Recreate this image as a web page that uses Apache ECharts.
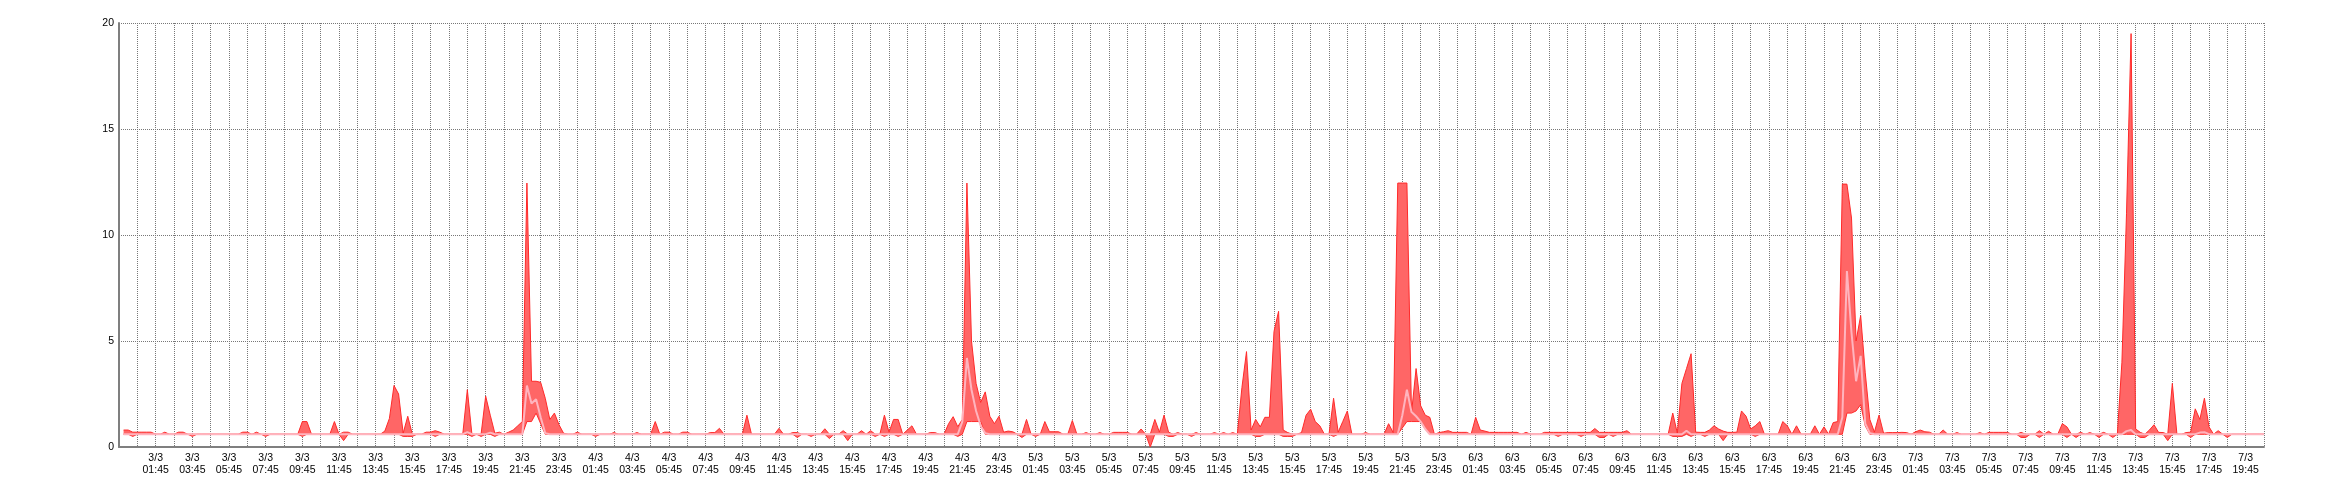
<!DOCTYPE html>
<html><head><meta charset="utf-8">
<script src="https://cdn.jsdelivr.net/npm/echarts@6/dist/echarts.min.js"></script>
<style>html,body{margin:0;padding:0;background:#fff}#c{width:2340px;height:500px}</style>
</head><body><div id="c"></div>
<script>
// 15-minute samples from 3/3 00:00 to 7/3 20:45 (24 samples = 6 hours per row)
const maxVals = [
0.8,0.8,0.7,0.7,0.7,0.7,0.7,0.6,0.6,0.7,0.6,0.6,0.7,0.7,0.6,0.6,0.6,0.6,0.6,0.6,0.6,0.6,0.6,0.6,
0.6,0.6,0.7,0.7,0.6,0.7,0.6,0.6,0.6,0.6,0.6,0.6,0.6,0.6,0.6,1.2,1.2,0.6,0.6,0.6,0.6,0.6,1.2,0.6,
0.7,0.7,0.6,0.6,0.6,0.6,0.6,0.6,0.6,0.75,1.35,2.9,2.5,0.65,1.45,0.6,0.6,0.6,0.7,0.7,0.77,0.7,0.6,0.6,
0.6,0.6,0.6,2.7,0.6,0.6,0.6,2.4,1.5,0.65,0.7,0.6,0.7,0.8,1.0,1.2,12.45,3.1,3.1,3.05,2.3,1.3,1.6,1.05,
0.65,0.6,0.6,0.7,0.6,0.6,0.6,0.6,0.6,0.6,0.6,0.68,0.6,0.6,0.6,0.6,0.68,0.6,0.6,0.6,1.2,0.6,0.7,0.7,
0.6,0.6,0.7,0.7,0.6,0.6,0.6,0.6,0.68,0.68,0.88,0.6,0.6,0.6,0.6,0.6,1.5,0.6,0.6,0.6,0.6,0.6,0.6,0.88,
0.6,0.6,0.68,0.68,0.6,0.6,0.6,0.6,0.6,0.86,0.6,0.6,0.6,0.77,0.6,0.6,0.6,0.77,0.6,0.77,0.6,0.6,1.5,0.7,
1.3,1.3,0.6,0.8,1.0,0.6,0.6,0.6,0.68,0.68,0.6,0.6,1.1,1.43,0.96,1.3,12.45,5.0,3.0,2.1,2.6,1.45,1.1,1.45,
0.7,0.75,0.72,0.6,0.6,1.3,0.6,0.6,0.6,1.2,0.72,0.72,0.72,0.6,0.6,1.25,0.6,0.6,0.68,0.6,0.6,0.68,0.6,0.6,
0.69,0.69,0.69,0.69,0.6,0.6,0.85,0.6,0.6,1.3,0.7,1.5,0.7,0.6,0.68,0.6,0.6,0.6,0.68,0.6,0.6,0.6,0.68,0.6,
0.68,0.6,0.68,0.6,2.8,4.5,0.8,1.3,0.95,1.4,1.4,5.45,6.4,0.8,0.68,0.6,0.6,0.68,1.5,1.78,1.2,1.0,0.6,0.6,
2.3,0.7,1.2,1.7,0.6,0.6,0.6,0.68,0.6,0.6,0.6,0.6,1.1,0.68,12.45,12.45,12.45,1.6,3.7,1.95,1.5,1.4,0.6,0.68,
0.72,0.77,0.69,0.69,0.69,0.69,0.6,1.4,0.8,0.75,0.69,0.69,0.69,0.69,0.69,0.69,0.69,0.6,0.69,0.6,0.6,0.6,0.69,0.69,
0.69,0.69,0.69,0.69,0.69,0.69,0.69,0.69,0.69,0.87,0.69,0.69,0.69,0.69,0.69,0.69,0.77,0.6,0.6,0.6,0.6,0.6,0.6,0.6,
0.6,0.6,1.6,0.65,3.0,3.7,4.4,0.7,0.69,0.69,0.8,1.0,0.85,0.75,0.69,0.69,0.7,1.7,1.45,0.85,1.0,1.2,0.6,0.6,
0.6,0.6,1.2,1.0,0.6,1.0,0.6,0.6,0.6,1.0,0.6,0.95,0.6,1.15,1.2,12.4,12.4,10.8,5.0,6.2,3.5,1.3,0.7,1.5,
0.65,0.68,0.68,0.68,0.69,0.68,0.6,0.72,0.8,0.72,0.7,0.6,0.6,0.8,0.6,0.6,0.68,0.6,0.6,0.6,0.6,0.68,0.6,0.69,
0.69,0.69,0.69,0.69,0.6,0.6,0.69,0.6,0.6,0.6,0.77,0.6,0.74,0.6,0.6,1.1,0.95,0.6,0.6,0.69,0.6,0.68,0.6,0.6,
0.69,0.6,0.6,0.6,4.0,11.0,19.5,0.85,0.69,0.6,0.8,1.05,0.69,0.68,0.6,3.0,0.6,0.6,0.68,0.7,1.8,1.3,2.3,0.95,
0.6,0.77,0.6,0.6,0.6,0.6,0.6,0.6,0.6,0.6,0.6,0.6
];
const minVals = [
0.6,0.6,0.5,0.6,0.6,0.6,0.6,0.6,0.6,0.6,0.6,0.6,0.6,0.6,0.6,0.5,0.6,0.6,0.6,0.6,0.6,0.6,0.6,0.6,
0.6,0.6,0.6,0.6,0.6,0.6,0.6,0.5,0.6,0.6,0.6,0.6,0.6,0.6,0.6,0.5,0.6,0.6,0.6,0.6,0.6,0.6,0.6,0.6,
0.3,0.6,0.6,0.6,0.6,0.6,0.6,0.6,0.6,0.6,0.6,0.6,0.6,0.5,0.5,0.5,0.6,0.6,0.6,0.6,0.5,0.6,0.6,0.6,
0.6,0.6,0.6,0.6,0.5,0.6,0.5,0.6,0.6,0.5,0.6,0.6,0.6,0.6,0.6,0.6,1.2,1.2,1.6,1.1,0.6,0.6,0.6,0.6,
0.6,0.6,0.6,0.6,0.6,0.6,0.6,0.5,0.6,0.6,0.6,0.6,0.6,0.6,0.6,0.6,0.6,0.6,0.6,0.6,0.6,0.6,0.6,0.6,
0.6,0.6,0.6,0.6,0.6,0.6,0.6,0.6,0.6,0.6,0.6,0.6,0.6,0.6,0.6,0.6,0.6,0.6,0.6,0.6,0.6,0.6,0.6,0.6,
0.6,0.6,0.6,0.45,0.6,0.6,0.5,0.6,0.6,0.6,0.4,0.6,0.6,0.6,0.3,0.6,0.6,0.6,0.6,0.6,0.5,0.6,0.5,0.6,
0.6,0.5,0.6,0.6,0.6,0.6,0.6,0.6,0.6,0.6,0.6,0.6,0.6,0.6,0.5,0.6,1.2,1.2,1.2,1.2,0.6,0.6,0.6,0.6,
0.6,0.6,0.6,0.6,0.45,0.6,0.6,0.5,0.6,0.6,0.6,0.6,0.6,0.6,0.6,0.6,0.6,0.6,0.6,0.6,0.6,0.6,0.6,0.6,
0.6,0.6,0.6,0.6,0.6,0.6,0.6,0.6,0.0,0.6,0.6,0.6,0.5,0.5,0.6,0.6,0.6,0.5,0.6,0.6,0.6,0.6,0.6,0.6,
0.6,0.6,0.6,0.6,0.6,0.6,0.6,0.5,0.5,0.6,0.6,0.6,0.6,0.5,0.5,0.5,0.6,0.6,0.6,0.6,0.6,0.6,0.6,0.6,
0.5,0.6,0.6,0.6,0.6,0.6,0.6,0.6,0.6,0.6,0.6,0.6,0.6,0.6,0.6,0.9,1.2,1.2,1.2,1.2,0.85,0.6,0.6,0.6,
0.6,0.6,0.6,0.6,0.6,0.6,0.6,0.6,0.6,0.6,0.6,0.6,0.6,0.6,0.6,0.6,0.6,0.6,0.6,0.6,0.6,0.6,0.6,0.6,
0.6,0.5,0.6,0.6,0.6,0.6,0.5,0.6,0.6,0.6,0.45,0.45,0.6,0.5,0.6,0.6,0.6,0.6,0.6,0.6,0.6,0.6,0.6,0.6,
0.6,0.6,0.5,0.5,0.5,0.6,0.5,0.6,0.6,0.5,0.6,0.6,0.6,0.3,0.6,0.6,0.6,0.6,0.6,0.6,0.5,0.6,0.6,0.6,
0.6,0.6,0.6,0.6,0.6,0.6,0.6,0.6,0.6,0.6,0.6,0.6,0.6,0.6,0.6,0.6,1.6,1.6,1.7,2.0,1.0,0.6,0.6,0.6,
0.6,0.6,0.6,0.6,0.6,0.6,0.6,0.6,0.6,0.6,0.6,0.6,0.6,0.6,0.6,0.6,0.6,0.6,0.6,0.6,0.6,0.6,0.6,0.6,
0.6,0.6,0.6,0.6,0.6,0.6,0.45,0.45,0.6,0.6,0.45,0.6,0.6,0.6,0.6,0.6,0.45,0.6,0.45,0.6,0.6,0.6,0.6,0.45,
0.6,0.6,0.45,0.6,0.6,0.6,0.6,0.6,0.45,0.45,0.6,0.6,0.6,0.6,0.3,0.6,0.6,0.6,0.6,0.45,0.6,0.6,0.6,0.6,
0.6,0.6,0.6,0.45,0.6,0.6,0.6,0.6,0.6,0.6,0.6,0.6
];
const avgVals = [
0.6,0.6,0.6,0.6,0.6,0.6,0.6,0.6,0.6,0.6,0.6,0.6,0.6,0.6,0.6,0.6,0.6,0.6,0.6,0.6,0.6,0.6,0.6,0.6,
0.6,0.6,0.6,0.6,0.6,0.6,0.6,0.6,0.6,0.6,0.6,0.6,0.6,0.6,0.6,0.6,0.6,0.6,0.6,0.6,0.6,0.6,0.6,0.6,
0.6,0.6,0.6,0.6,0.6,0.6,0.6,0.6,0.6,0.6,0.6,0.6,0.6,0.6,0.6,0.6,0.6,0.6,0.6,0.6,0.6,0.6,0.6,0.6,
0.6,0.6,0.6,0.7,0.6,0.6,0.6,0.6,0.68,0.6,0.6,0.6,0.6,0.6,0.6,0.6,2.9,2.05,2.25,1.4,0.65,0.6,0.6,0.6,
0.6,0.6,0.6,0.6,0.6,0.6,0.6,0.6,0.6,0.6,0.6,0.6,0.6,0.6,0.6,0.6,0.6,0.6,0.6,0.6,0.6,0.6,0.6,0.6,
0.6,0.6,0.6,0.6,0.6,0.6,0.6,0.6,0.6,0.6,0.6,0.6,0.6,0.6,0.6,0.6,0.6,0.6,0.6,0.6,0.6,0.6,0.6,0.6,
0.6,0.6,0.6,0.6,0.6,0.6,0.6,0.6,0.6,0.6,0.6,0.6,0.6,0.6,0.6,0.6,0.6,0.6,0.6,0.6,0.6,0.6,0.6,0.6,
0.6,0.6,0.6,0.6,0.6,0.6,0.6,0.6,0.6,0.6,0.6,0.6,0.6,0.6,0.6,1.2,4.2,2.7,1.7,1.0,0.65,0.6,0.6,0.6,
0.6,0.6,0.6,0.6,0.6,0.6,0.6,0.6,0.6,0.6,0.6,0.6,0.6,0.6,0.6,0.6,0.6,0.6,0.6,0.6,0.6,0.6,0.6,0.6,
0.6,0.6,0.6,0.6,0.6,0.6,0.6,0.6,0.6,0.6,0.6,0.6,0.6,0.6,0.6,0.6,0.6,0.6,0.6,0.6,0.6,0.6,0.6,0.6,
0.6,0.6,0.6,0.6,0.6,0.6,0.6,0.6,0.6,0.6,0.6,0.6,0.6,0.6,0.6,0.6,0.6,0.6,0.6,0.6,0.6,0.6,0.6,0.6,
0.6,0.6,0.6,0.6,0.6,0.6,0.6,0.6,0.6,0.6,0.6,0.6,0.6,0.6,0.6,1.5,2.7,1.65,1.45,1.2,0.85,0.6,0.6,0.6,
0.6,0.6,0.6,0.6,0.6,0.6,0.6,0.6,0.6,0.6,0.6,0.6,0.6,0.6,0.6,0.6,0.6,0.6,0.6,0.6,0.6,0.6,0.6,0.6,
0.6,0.6,0.6,0.6,0.6,0.6,0.6,0.6,0.6,0.6,0.6,0.6,0.6,0.6,0.6,0.6,0.6,0.6,0.6,0.6,0.6,0.6,0.6,0.6,
0.6,0.6,0.6,0.6,0.6,0.77,0.6,0.6,0.6,0.6,0.6,0.6,0.6,0.6,0.6,0.6,0.6,0.6,0.6,0.6,0.6,0.6,0.6,0.6,
0.6,0.6,0.6,0.6,0.6,0.6,0.6,0.6,0.6,0.6,0.6,0.6,0.6,0.6,0.6,1.4,8.3,5.4,3.1,4.3,1.1,0.65,0.6,0.6,
0.6,0.6,0.6,0.6,0.6,0.6,0.6,0.6,0.6,0.6,0.6,0.6,0.6,0.6,0.6,0.6,0.6,0.6,0.6,0.6,0.6,0.6,0.6,0.6,
0.6,0.6,0.6,0.6,0.6,0.6,0.6,0.6,0.6,0.6,0.6,0.6,0.6,0.6,0.6,0.6,0.6,0.6,0.6,0.6,0.6,0.6,0.6,0.6,
0.6,0.6,0.6,0.6,0.6,0.75,0.8,0.6,0.6,0.6,0.6,0.6,0.6,0.6,0.6,0.6,0.6,0.6,0.6,0.6,0.6,0.68,0.7,0.6,
0.6,0.6,0.6,0.6,0.6,0.6,0.6,0.6,0.6,0.6,0.6,0.6
];
const yTicks = [0, 5, 10, 15, 20];
const month = 3, firstDay = 3, stepMin = 15;

// category axis: one slot before the first sample (2/3 23:45), then one per sample
const categories = [];
for (let c = 0; c <= maxVals.length; c++) {
  const t = (c - 1) * stepMin;
  const day = firstDay + Math.floor(t / 1440);
  const m = ((t % 1440) + 1440) % 1440;
  const hh = String(Math.floor(m / 60)).padStart(2, '0');
  const mm = String(m % 60).padStart(2, '0');
  categories.push(day + '/' + month + '\n' + hh + ':' + mm);
}
const lastIdx = categories.length - 1;
const rangeVals = maxVals.map((v, k) => +(v - minVals[k]).toFixed(3));

const chart = echarts.init(document.getElementById('c'), null, {renderer: 'canvas'});
const font = 'Liberation Sans';
chart.setOption({
  animation: false,
  backgroundColor: '#ffffff',
  grid: {left: 119, right: 76, top: 23, bottom: 53},
  xAxis: {
    type: 'category', data: categories, boundaryGap: false,
    axisLine: {lineStyle: {color: '#7f7f7f', width: 2}},
    axisTick: {show: false},
    axisLabel: {
      interval: (idx) => idx > 0 && idx < lastIdx && idx % 8 === 0,
      color: '#000', fontFamily: font, fontSize: 10.5, lineHeight: 12, margin: 5
    },
    splitLine: {show: true, interval: (idx) => idx > 0 && idx % 4 === 0,
      lineStyle: {color: '#777', type: [1, 1], width: 1}}
  },
  yAxis: {
    type: 'value', min: yTicks[0], max: yTicks[yTicks.length - 1], interval: yTicks[1] - yTicks[0],
    axisLine: {show: true, lineStyle: {color: '#7f7f7f', width: 2}},
    axisTick: {show: false},
    axisLabel: {color: '#000', fontFamily: font, fontSize: 10.5, margin: 5},
    splitLine: {show: true, lineStyle: {color: '#777', type: [1, 1], width: 1}}
  },
  series: [
    {name: 'min', type: 'line', stack: 'band', data: [null].concat(minVals), symbol: 'none',
     lineStyle: {color: '#ff2a2a', width: 1}, z: 2},
    {name: 'max', type: 'line', stack: 'band', data: [null].concat(rangeVals), symbol: 'none',
     lineStyle: {color: '#ff2a2a', width: 1}, areaStyle: {color: '#ff6666', opacity: 1}, z: 2},
    {name: 'avg', type: 'line', data: [null].concat(avgVals), symbol: 'none',
     lineStyle: {color: '#ffb4be', width: 2}, z: 3}
  ]
});
</script>
</body></html>
